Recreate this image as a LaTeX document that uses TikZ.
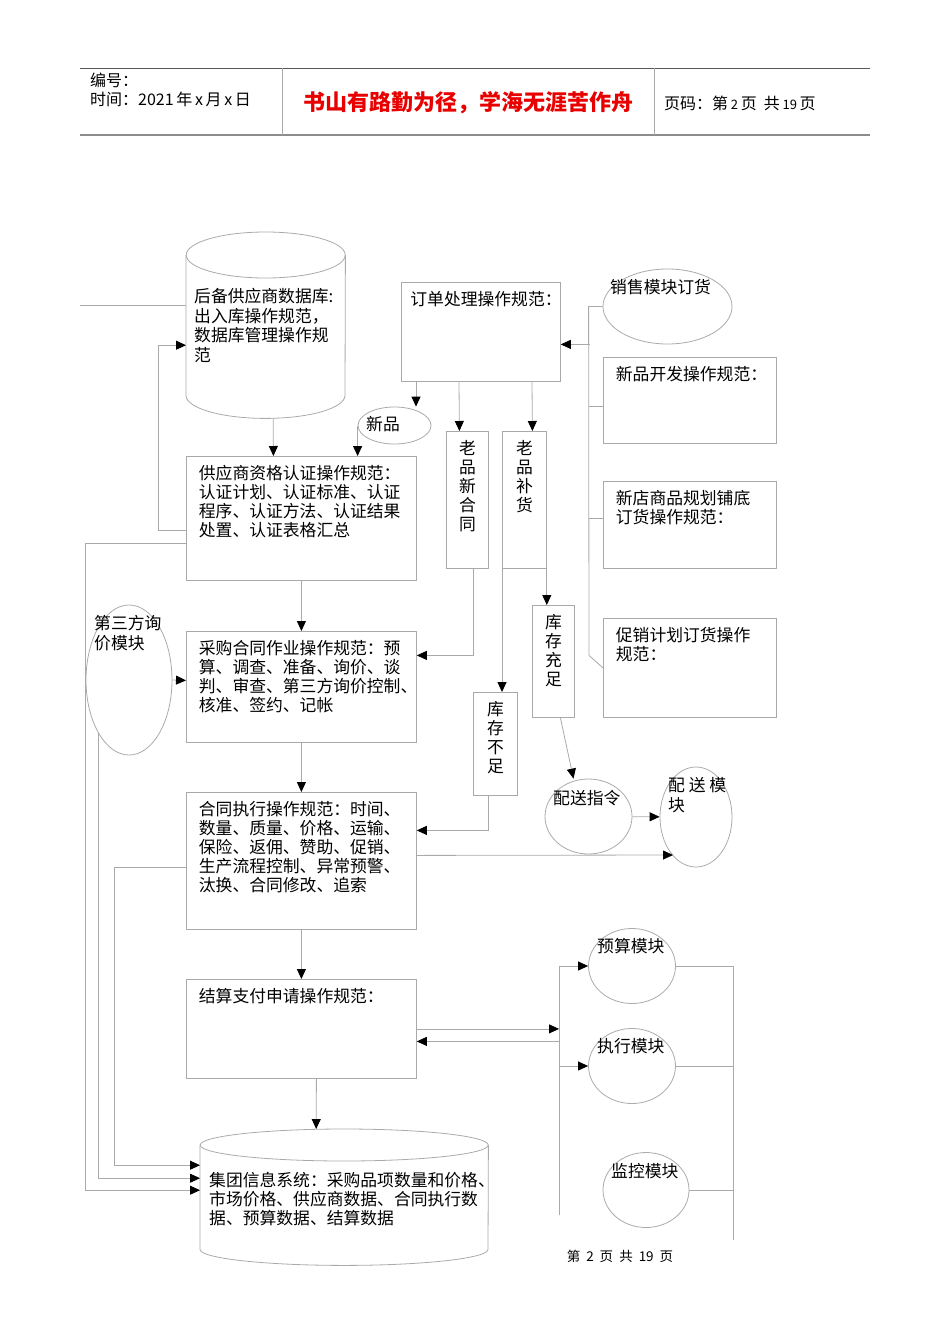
\documentclass[tikz,border=0pt]{standalone}
\usepackage{fontspec}
\setmainfont{Noto Sans CJK SC}
\usetikzlibrary{positioning, shapes.geometric, arrows.meta}
\definecolor{linegray}{RGB}{170,170,170}
\definecolor{mottored}{RGB}{232,0,0}

\begin{document}
\begin{tikzpicture}[
    x=1pt, y=-1pt,
    font=\fontsize{16.8}{19}\selectfont,
    box/.style={rectangle, draw=linegray, line width=0.8pt, anchor=north west, inner xsep=12.5pt, inner ysep=9pt},
    vbox/.style={box, inner xsep=0pt},
    oval/.style={ellipse, draw=linegray, line width=0.8pt, inner sep=0pt},
    txt/.style={inner sep=0pt},
    wire/.style={draw=linegray, line width=0.8pt},
    arrow/.style={wire, -{Triangle[length=10pt, width=9pt, color=black]}}
]
\useasboundingbox (0,0) rectangle (950,1344);

\draw[black!65, line width=0.8pt] (80,68) -- (870,68);
\draw[black!45, line width=2.2pt] (80,135) -- (870,135);
\draw[wire] (282,68) -- (282,135);
\draw[wire] (654,68) -- (654,135);
\node[txt, anchor=west, font=\fontsize{16}{18}\selectfont] (hnum) at (90,80) {编号：};
\node[txt, anchor=west, font=\fontsize{16}{18}\selectfont] (htime) at (90,99) {时间：2021\,年\,x\,月\,x\,日};
\node[txt, font=\fontsize{22}{24}\selectfont\bfseries, text=mottored] (hmotto) at (468,103) {书山有路勤为径，学海无涯苦作舟};
\node[txt, anchor=west, font=\fontsize{16}{18}\selectfont] (hpage) at (664,103) {页码：第\,{\fontsize{13}{15}\selectfont 2}\,页\ \ 共\,{\fontsize{13}{15}\selectfont 19}\,页};

\node[anchor=north west, inner sep=0pt, minimum width=159, minimum height=186] (db1) at (186,232) {};
\node[txt, anchor=north west] (db1text) at (194,288) {\parbox[t]{150pt}{\baselineskip=19.6pt 后备供应商数据库:\\出入库操作规范，\\数据库管理操作规\\范}};
\node[box, inner xsep=9pt] (order) at (401,282) {\parbox[t][81pt][t]{141pt}{订单处理操作规范：}};
\node[oval, minimum width=129, minimum height=75] (sales) at (667.5,306.5) {};
\node[txt, anchor=west] (salestext) at (610,287) {销售模块订货};
\node[box] (newdev) at (603,357) {\parbox[t][68pt][t]{148pt}{新品开发操作规范：}};
\node[box] (newstore) at (603,481) {\parbox[t][69pt][t]{148pt}{新店商品规划铺底\\订货操作规范：}};
\node[box] (promo) at (603,618) {\parbox[t][81pt][t]{148pt}{促销计划订货操作\\规范：}};
\node[oval, minimum width=73, minimum height=37] (newprod) at (394.5,425.5) {};
\node[txt, anchor=west] (newprodtext) at (366,424) {新品};
\node[box] (qual) at (186,456) {\parbox[t][106pt][t]{205pt}{供应商资格认证操作规范：\\认证计划、认证标准、认证\\程序、认证方法、认证结果\\处置、认证表格汇总}};
\node[vbox] (oldnew) at (446,431) {\parbox[t][119pt][t]{42pt}{\centering 老\\品\\新\\合\\同}};
\node[vbox] (oldrep) at (502,431) {\parbox[t][119pt][t]{44pt}{\centering 老\\品\\补\\货}};
\node[vbox] (enough) at (532,605) {\parbox[t][94pt][t]{42pt}{\centering 库\\存\\充\\足}};
\node[vbox] (lack) at (473,692) {\parbox[t][85pt][t]{44pt}{\centering 库\\存\\不\\足}};
\node[oval, minimum width=86, minimum height=150] (third) at (129,680) {};
\node[txt, anchor=north west] (thirdtext) at (94,615) {\parbox[t]{80pt}{\baselineskip=20pt 第三方询\\价模块}};
\node[box] (purch) at (186,631) {\parbox[t][93pt][t]{205pt}{采购合同作业操作规范：预\\算、调查、准备、询价、谈\\判、审查、第三方询价控制、\\核准、签约、记帐}};
\node[box] (exec) at (186,792) {\parbox[t][119pt][t]{205pt}{合同执行操作规范：时间、\\数量、质量、价格、运输、\\保险、返佣、赞助、促销、\\生产流程控制、异常预警、\\汰换、合同修改、追索}};
\node[oval, minimum width=87, minimum height=75] (dispatch) at (588.5,816.5) {};
\node[txt, anchor=west] (dispatchtext) at (553,798) {配送指令};
\node[oval, minimum width=72, minimum height=100] (deliv) at (696,817) {};
\node[txt, anchor=north west] (delivtext) at (668,777) {\parbox[t]{64pt}{\baselineskip=20pt 配 送 模\\块}};
\node[box] (settle) at (186,979) {\parbox[t][81pt][t]{205pt}{结算支付申请操作规范：}};
\node[oval, minimum width=87, minimum height=75] (budget) at (632,966) {};
\node[txt, anchor=west] (budgettext) at (597,946) {预算模块};
\node[oval, minimum width=87, minimum height=75] (exe) at (632,1066) {};
\node[txt, anchor=west] (exetext) at (597,1046) {执行模块};
\node[oval, minimum width=86, minimum height=75] (monitor) at (646,1190) {};
\node[txt, anchor=west] (monitortext) at (611,1171) {监控模块};
\node[anchor=north west, inner sep=0pt, minimum width=288, minimum height=136] (db2) at (200,1129) {};
\node[txt, anchor=north west] (db2text) at (209,1172) {\parbox[t]{290pt}{集团信息系统：采购品项数量和价格、\\市场价格、供应商数据、合同执行数\\据、预算数据、结算数据}};
\node[txt, font=\fontsize{13.5}{15}\selectfont] (foot) at (620,1256) {第\hspace{6pt}2\hspace{6pt}页\hspace{6pt}共\hspace{6pt}19\hspace{6pt}页};
\coordinate (modbus) at (559,1215);
\coordinate (modend) at (733,1240);

\draw[wire] ([yshift=-23pt]db1.north) ellipse [x radius=79.5pt, y radius=23pt];
\draw[wire] ([yshift=-23pt]db1.north west) -- ([yshift=23pt]db1.south west) arc[start angle=180, end angle=360, x radius=79.5pt, y radius=23pt] -- ([yshift=-23pt]db1.north east);
\draw[wire] ([yshift=-16pt]db2.north) ellipse [x radius=144pt, y radius=16pt];
\draw[wire] ([yshift=-16pt]db2.north west) -- ([yshift=16pt]db2.south west) arc[start angle=180, end angle=360, x radius=144pt, y radius=16pt] -- ([yshift=-16pt]db2.north east);

\draw[arrow] ([xshift=7.5pt]db1.south) -- ([xshift=-28pt]qual.north);
\draw[arrow] ([xshift=15pt]order.south west) -- ([xshift=21.5pt]newprod.north);
\draw[arrow] (newprod.west) -- (newprod.west |- qual.north);
\draw[arrow] ([yshift=-12pt]qual.west) -- ++(-28,0) |- ([yshift=-20pt]db1.west);
\draw[arrow] (qual) -- (purch);
\draw[arrow] (purch) -- (exec);
\draw[arrow] (exec) -- (settle);
\draw[arrow] ([xshift=15pt]settle.south) -- ([xshift=-28pt]db2.north);
\draw[arrow] ([xshift=58pt]order.south west) -- ([xshift=-8pt]oldnew.north);
\draw[arrow] ([xshift=131pt]order.south west) -- ([xshift=8pt]oldrep.north);
\draw[arrow] ([xshift=6pt]oldnew.south) |- ([yshift=31.5pt]purch.east);
\draw[arrow] (oldrep.south west) -- (oldrep.south west |- lack.north);
\draw[arrow] (oldrep.south east) -- (oldrep.south east |- enough.north);
\draw[arrow] ([xshift=-7pt]lack.south) |- ([yshift=30.5pt]exec.east);
\draw[arrow] ([xshift=7pt]enough.south) -- ([xshift=-15pt]dispatch.north);
\draw[arrow] (dispatch) -- (deliv);
\draw[arrow] ([yshift=5.5pt]exec.east) -- ([xshift=-23pt,yshift=-38pt]deliv.center);
\draw[arrow] (third.east) -- ([yshift=6.5pt]purch.west);
\draw[wire] ([yshift=20pt]db1.west) -- ++(-106,0);
\draw[arrow] ([yshift=-25pt]qual.west) -- ++(-101,0) |- ([yshift=7pt]db2.west);
\draw[arrow] (third.south west) |- ([yshift=19pt]db2.west);
\draw[arrow] ([yshift=-6.5pt]exec.west) -- ++(-72,0) |- ([yshift=32pt]db2.west);
\draw[wire] (sales.west) -- ++(-14,0) -- ([xshift=-14pt,yshift=12.5pt]promo.west) -- (promo.west);
\draw[wire] ([yshift=-6pt]newdev.west) -- ++(-14,0);
\draw[wire] ([yshift=6.5pt]newstore.west) -- ++(-14,0);
\draw[arrow] ([xshift=29pt,yshift=-12.5pt]order.east) -- ([yshift=-12.5pt]order.east);
\draw[arrow] (modbus) |- (budget.west);
\draw[arrow] (modbus |- exe.west) -- (exe.west);
\draw[arrow] (settle.east) -- (settle.east -| modbus);
\draw[arrow] ([xshift=143pt,yshift=-12.5pt]settle.east) -- ([yshift=-12.5pt]settle.east);
\draw[wire] (budget.east) -| (modend);
\draw[wire] (exe.east) -- (exe.east -| modend);
\draw[wire] (monitor.east) -- (monitor.east -| modend);
\end{tikzpicture}
\end{document}
